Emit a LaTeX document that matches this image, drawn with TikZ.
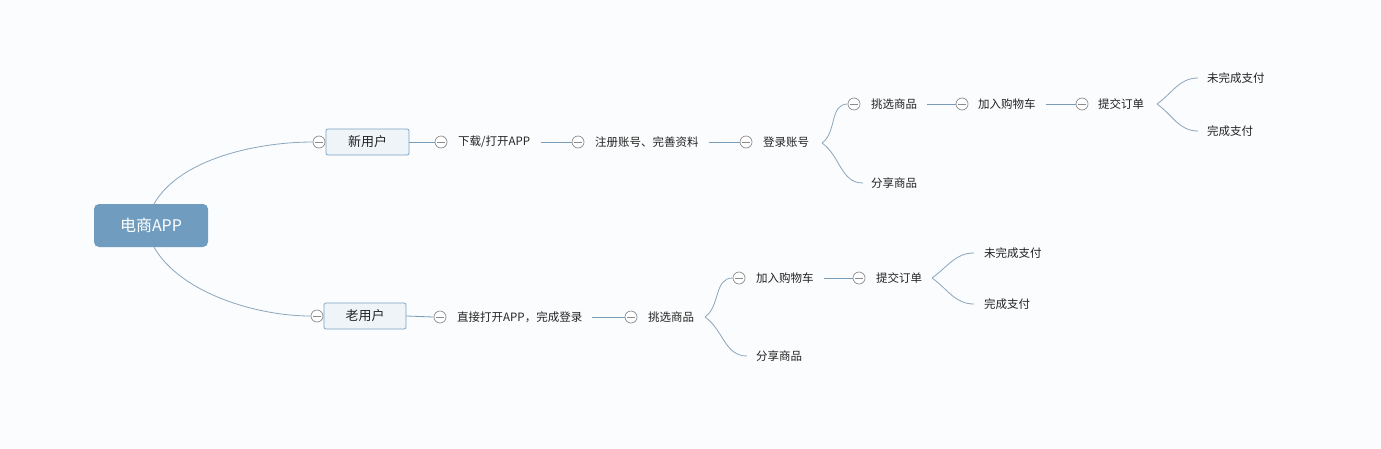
\documentclass[tikz,border=0pt]{standalone}
\usepackage{fontspec}
\newfontfamily\cjk{Noto Sans CJK SC}
\definecolor{bgcol}{RGB}{251,252,253}
\definecolor{rootfill}{RGB}{112,157,191}
\definecolor{boxfill}{RGB}{239,244,249}
\definecolor{boxline}{RGB}{122,160,194}
\definecolor{linecol}{RGB}{120,155,185}
\definecolor{curvecol}{RGB}{140,165,188}
\definecolor{txtcol}{RGB}{35,35,35}
\definecolor{circcol}{RGB}{140,140,140}
\tikzset{
  x=1pt,y=-1pt,
  txt/.style={anchor=west,inner sep=0pt,text=txtcol,font=\cjk\fontsize{11.5}{13}\selectfont},
  collapse/.style={circle,draw=circcol,fill=white,line width=0.7pt,minimum size=12pt,inner sep=0pt,
    path picture={\draw[circcol,line width=0.7pt] ([xshift=-3.6pt]path picture bounding box.center) -- ([xshift=3.6pt]path picture bounding box.center);}},
  conn/.style={draw=linecol,line width=0.8pt},
  curve/.style={draw=curvecol,line width=0.8pt},
  userbox/.style={draw=boxline,fill=boxfill,rounded corners=2pt,line width=0.7pt,inner sep=0pt,text=txtcol,font=\cjk\fontsize{13}{15}\selectfont},
}
\begin{document}
\begin{tikzpicture}
\fill[bgcol] (0,0) rectangle (1381,448);
\useasboundingbox (0,0) rectangle (1381,448);
% root
\node[fill=rootfill,rounded corners=5pt,minimum width=114pt,minimum height=43pt,inner sep=0pt,text=white,font=\cjk\fontsize{16}{18}\selectfont] (root) at (151,225.5) {电商APP};
% users
\node[userbox,minimum width=83pt,minimum height=26pt] (new) at (367.5,142) {新用户};
\node[userbox,minimum width=82pt,minimum height=26pt] (old) at (365,316) {老用户};
\node[collapse] (cnew) at (319,142) {};
\node[collapse] (cold) at (317,316) {};
\draw[curve] ([xshift=3pt]root.north) to[out=60,in=180,looseness=0.8] (cnew.west);
\draw[curve] ([xshift=3pt]root.south) to[out=-60,in=180,looseness=0.8] (cold.west);

% ---- new user chain
\node[collapse] (c1) at (441,142) {};
\node[txt] (t1) at (458,142) {下载/打开APP};
\draw[conn] (new.east) -- (c1.west);
\node[collapse] (c2) at (578,142) {};
\node[txt] (t2) at (595,142) {注册账号、完善资料};
\draw[conn] ([xshift=11pt]t1.east) -- (c2.west);
\node[collapse] (c3) at (746,142) {};
\node[txt] (t3) at (763,142) {登录账号};
\draw[conn] ([xshift=10pt]t2.east) -- (c3.west);
\coordinate (b1) at (822,143);
\node[collapse] (c4) at (854,104) {};
\node[txt] (t4) at (871,104) {挑选商品};
\node[txt] (t5) at (871,183) {分享商品};
\draw[curve] (b1) to[out=-35,in=180] ([xshift=-8pt]t5.west);
\draw[curve] (b1) to[out=35,in=180] (c4.west);
\node[collapse] (c6) at (962,104) {};
\node[txt] (t6) at (978,104) {加入购物车};
\draw[conn] ([xshift=10pt]t4.east) -- (c6.west);
\node[collapse] (c7) at (1082,104) {};
\node[txt] (t7) at (1098,104) {提交订单};
\draw[conn] ([xshift=10pt]t6.east) -- (c7.west);
\coordinate (b2) at (1157,104);
\node[txt] (t8) at (1207,78) {未完成支付};
\node[txt] (t9) at (1207,131) {完成支付};
\draw[curve] (b2) to[out=35,in=180] ([xshift=-9pt]t8.west);
\draw[curve] (b2) to[out=-35,in=180] ([xshift=-9pt]t9.west);

% ---- old user chain
\node[collapse] (d1) at (440,317) {};
\node[txt] (u1) at (457,317) {直接打开APP，完成登录};
\draw[conn] (old.east) -- (d1.west);
\node[collapse] (d2) at (631,317) {};
\node[txt] (u2) at (648,317) {挑选商品};
\draw[conn] ([xshift=10pt]u1.east) -- (d2.west);
\coordinate (b3) at (705,317);
\node[collapse] (d3) at (739,278) {};
\node[txt] (u3) at (756,278) {加入购物车};
\node[txt] (u4) at (756,356) {分享商品};
\draw[curve] (b3) to[out=35,in=180] (d3.west);
\draw[curve] (b3) to[out=-35,in=180] ([xshift=-9pt]u4.west);
\node[collapse] (d4) at (859,278) {};
\node[txt] (u5) at (876,278) {提交订单};
\draw[conn] ([xshift=10pt]u3.east) -- (d4.west);
\coordinate (b4) at (932,278);
\node[txt] (u6) at (984,253) {未完成支付};
\node[txt] (u7) at (984,304) {完成支付};
\draw[curve] (b4) to[out=35,in=180] ([xshift=-10pt]u6.west);
\draw[curve] (b4) to[out=-35,in=180] ([xshift=-10pt]u7.west);
\end{tikzpicture}
\end{document}
